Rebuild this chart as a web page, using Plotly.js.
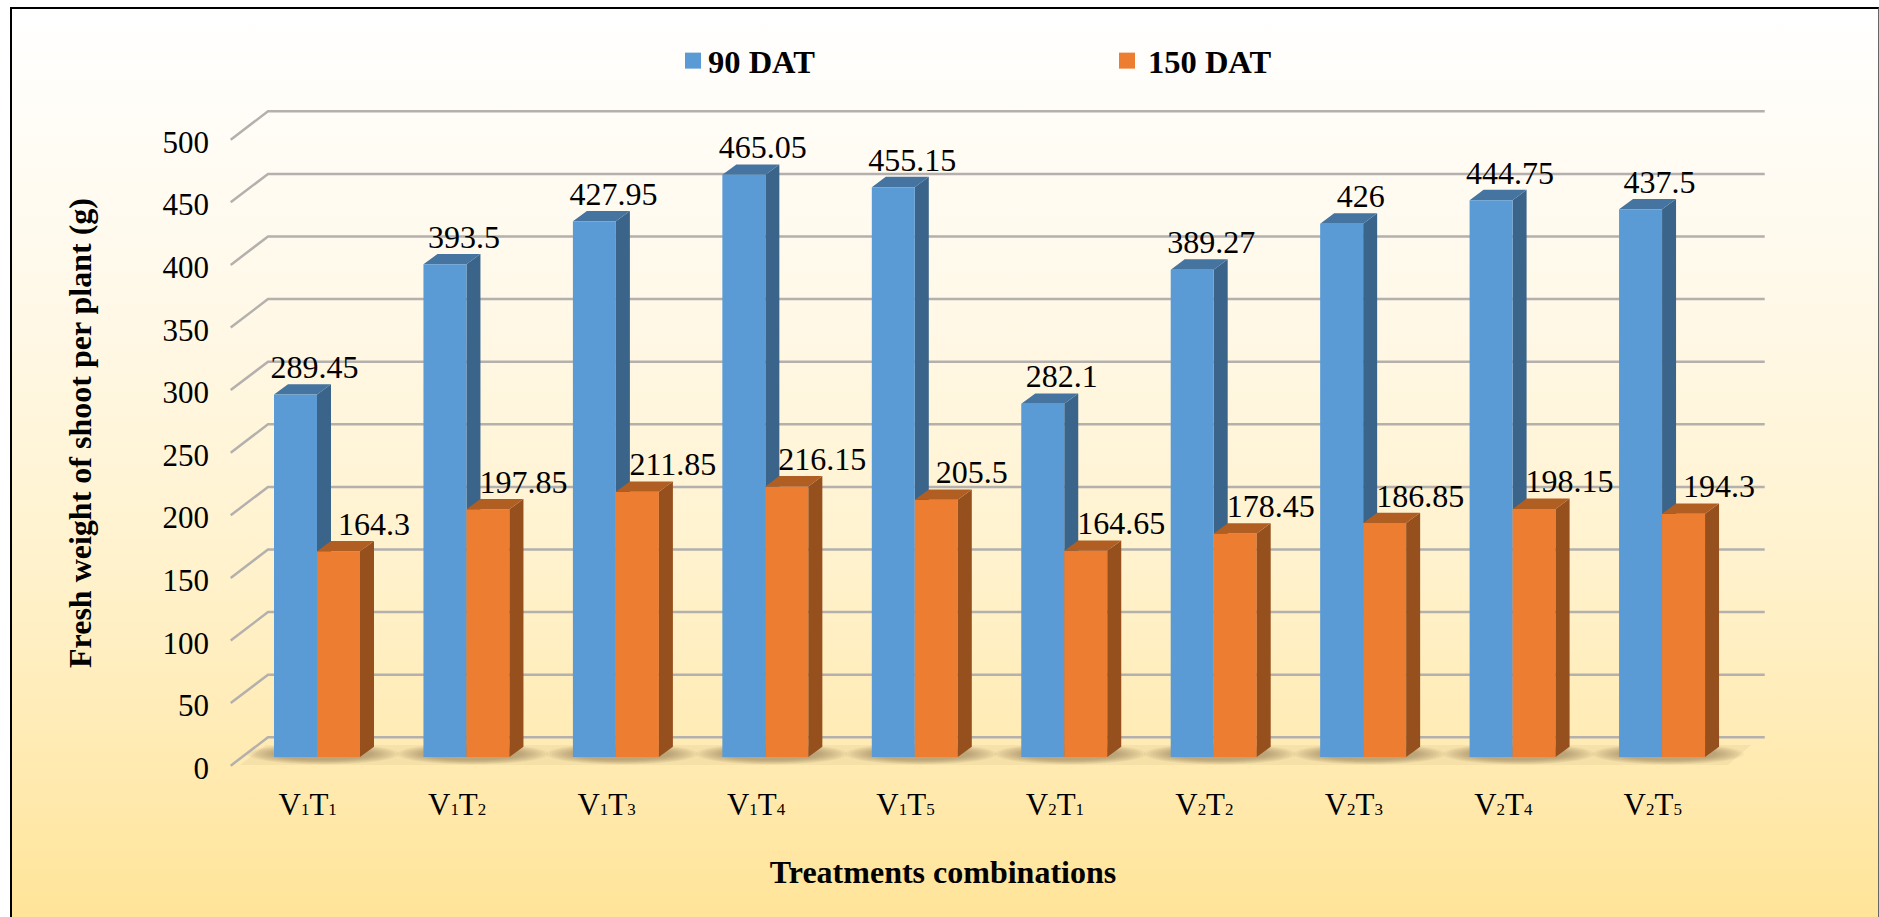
<!DOCTYPE html>
<html><head><meta charset="utf-8">
<script src="https://cdn.plot.ly/plotly-3.0.1.min.js"></script>
<style>
html,body{margin:0;padding:0;background:#fff;width:1879px;height:917px;overflow:hidden}
#frame{position:absolute;left:10px;top:7px;width:1866px;height:920px;border-left:2px solid #000;border-top:2px solid #000;border-right:1px solid #666;
background:linear-gradient(to bottom,#ffffff 0%,#fff9ea 30%,#fff2cd 60%,#ffe9ad 85%,#ffe497 100%)}
#chart{position:absolute;left:0;top:0;width:1879px;height:917px}
</style></head><body>
<div id="frame"></div><div id="chart"></div>
<script>
const categories=['V1T1','V1T2','V1T3','V1T4','V1T5','V2T1','V2T2','V2T3','V2T4','V2T5'];
const dat90=[289.45,393.5,427.95,465.05,455.15,282.1,389.27,426,444.75,437.5];
const dat150=[164.3,197.85,211.85,216.15,205.5,164.65,178.45,186.85,198.15,194.3];
const yTicks=[0,50,100,150,200,250,300,350,400,450,500];
const seriesNames=['90 DAT','150 DAT'];

const font='"Liberation Serif","Times New Roman",serif';
const W=1879,H=917,L=106,R=1780,T=90,B=776;
const catPx=149.45,tick0=307.7,barPx=43,front0=317-307.7;
const unitPx=1.252,bar0=757,label0=768;
const dxU=14/catPx,dyU=10.3/unitPx,bw=barPx/catPx,sh=front0/catPx;
const xRange=[(L-tick0)/catPx,(R-tick0)/catPx];
const yBase=[(label0-B)/unitPx,(label0-T)/unitPx];
const yBars=[(bar0-B)/unitPx,(bar0-T)/unitPx];
const px2x=p=>(p-tick0)/catPx;
const py2y=p=>(bar0-p)/unitPx;
const idx=categories.map((_,i)=>i);
const smallDigits=s=>s.replace(/\d/g,d=>'<span style="font-size:17px">'+d+'</span>');

function faces(vals,left,kind){
  const xs=[],ys=[];
  vals.forEach((v,i)=>{
    const xl=i+sh+left,xr=xl+bw;
    if(kind==='side'){xs.push(xr,xr+dxU,xr+dxU,xr,xr,null);ys.push(0,dyU,v+dyU,v,0,null);}
    else{xs.push(xl,xr,xr+dxU,xl+dxU,xl,null);ys.push(v,v,v+dyU,v+dyU,v,null);}
  });
  return {xs,ys};
}
function faceTrace(vals,left,kind,color,z){
  const f=faces(vals,left,kind);
  return {type:'scatter',mode:'lines',x:f.xs,y:f.ys,yaxis:'y2',fill:'toself',fillcolor:color,
    line:{width:0,color:color},hoverinfo:'skip',showlegend:false,zorder:z};
}
const gridTraces=yTicks.map(v=>({type:'scatter',mode:'lines',
  x:[px2x(230.7),px2x(268),px2x(1764.7)],
  y:[v+(label0-765.7)/unitPx,v+(label0-737.3)/unitPx,v+(label0-737.3)/unitPx],
  line:{color:'#b3b0ad',width:2.5},hoverinfo:'skip',showlegend:false}));

const labelLift=24.5/unitPx;
const traces=[...gridTraces,
  faceTrace(dat90,-bw,'side','#3b648a',1),
  faceTrace(dat90,-bw,'top','#44749f',1),
  {type:'bar',name:seriesNames[0],x:idx.map(i=>i+sh),y:dat90,yaxis:'y2',width:bw,offset:-bw,marker:{color:'#5b9bd5'},zorder:2},
  {type:'bar',name:seriesNames[1],x:idx.map(i=>i+sh),y:dat150,yaxis:'y2',width:bw,offset:0,marker:{color:'#ed7d31'},zorder:2},
  faceTrace(dat150,0,'side','#96501d',3),
  faceTrace(dat150,0,'top','#b15e23',3),
  {type:'scatter',mode:'text',x:idx.map(i=>i+sh-bw/2+19/catPx),y:dat90.map(v=>v+labelLift),text:dat90.map(String),yaxis:'y2',
   textposition:'middle center',textfont:{family:font,size:32,color:'#000'},cliponaxis:false,showlegend:false,hoverinfo:'skip',zorder:4},
  {type:'scatter',mode:'text',x:idx.map(i=>i+sh+bw/2+35.5/catPx),y:dat150.map(v=>v+labelLift),text:dat150.map(String),yaxis:'y2',
   textposition:'middle center',textfont:{family:font,size:32,color:'#000'},cliponaxis:false,showlegend:false,hoverinfo:'skip',zorder:4}
];

// floor band and soft shadow round each pair of bars
const shapes=[{type:'path',xref:'paper',yref:'paper',layer:'below',line:{width:0},fillcolor:'rgba(110,95,50,0.07)',
  path:'M'+[[240,765],[266,745],[1751,745],[1728,765]].map(([a,b])=>((a-L)/(R-L))+','+((B-b)/(B-T))).join(' L')+' Z'}];
const layers=[[76,10.5],[73,10],[70,9.5],[67,9],[64,8.5],[61,8],[58,7.5],[55,7],[52,6.5],[49,6]];
idx.forEach(i=>{
  const cx=i+sh+6/catPx;
  layers.forEach(([hw,hh])=>shapes.push({type:'circle',xref:'x',yref:'y2',layer:'below',
    x0:cx-hw/catPx,x1:cx+hw/catPx,y0:py2y(754+hh),y1:py2y(754-hh),
    fillcolor:'rgba(85,75,40,0.045)',line:{width:0}}));
});

const layout={width:W,height:H,margin:{l:L,r:W-R,t:T,b:H-B,pad:0},autosize:false,
  paper_bgcolor:'rgba(0,0,0,0)',plot_bgcolor:'rgba(0,0,0,0)',barmode:'overlay',
  font:{family:font,color:'#000'},shapes:shapes,
  xaxis:{type:'linear',range:xRange,tickmode:'array',tickvals:idx,ticktext:categories.map(smallDigits),showgrid:false,zeroline:false,showline:false,ticks:'',
    tickfont:{family:font,size:31,color:'#000'},ticklabelstandoff:7,
    title:{text:'Treatments combinations',font:{family:font,size:32,color:'#000',weight:'bold'},standoff:39}},
  yaxis:{range:yBase,tickmode:'array',tickvals:yTicks,showgrid:false,zeroline:false,showline:false,ticks:'',anchor:'free',position:(209-L)/(R-L),
    tickfont:{family:font,size:31,color:'#000'},
    title:{text:'Fresh weight of shoot per plant (g)',font:{family:font,size:32,color:'#000',weight:'bold'},standoff:60}},
  yaxis2:{range:yBars,overlaying:'y',visible:false,showgrid:false,zeroline:false},
  legend:{orientation:'h',x:(668-L)/(R-L),xanchor:'left',y:1+(T-33)/(B-T),yanchor:'top',bgcolor:'rgba(0,0,0,0)',entrywidth:395,entrywidthmode:'pixels',
    font:{family:font,size:32.5,color:'#000',weight:'bold'},traceorder:'normal'}
};
Plotly.newPlot('chart',traces,layout,{displayModeBar:false,responsive:false}).then(gd=>{
  const shift=[8,2];
  gd.querySelectorAll('.legendbar path, .legendpoints path').forEach((p,i)=>{
    const s=shift[i]||0;
    p.setAttribute('d','M'+(s+5)+',8H'+(s-11)+'V-8H'+(s+5)+'Z');
  });
});
</script></body></html>
